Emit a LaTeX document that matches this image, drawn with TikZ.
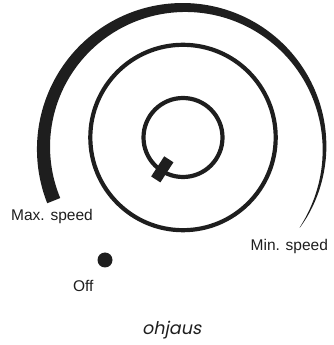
\documentclass[tikz,border=0pt]{standalone}
\usepackage{fontspec}
\usetikzlibrary{calc}
\setmainfont{Liberation Sans}
\newfontfamily\capfont[FakeSlant=0.2]{Poppins}
\definecolor{ink}{RGB}{30,30,30}
\begin{document}
\begin{tikzpicture}[x=1pt,y=1pt,
  declare function={wd(\t)=14*pow((\t+35)/237,0.7);},
  ring/.style={draw=ink,line width=4.2pt},
  lbl/.style={inner sep=0pt,anchor=base west,text=ink,font=\fontsize{15.5}{18}\selectfont},
  knob/.style={fill=ink,inner sep=0pt,minimum width=24pt,minimum height=11pt,rotate=237}]
\useasboundingbox (0,0) rectangle (334,345);
% outer tapering arc
\fill[ink] plot[domain=-34.5:202,samples=150,variable=\t]
   ({184+(140.5+0.5*wd(\t))*cos(\t)},{197+(140.5+0.5*wd(\t))*sin(\t)})
  -- plot[domain=202:-34.5,samples=150,variable=\t]
   ({184+(140.5-0.5*wd(\t))*cos(\t)},{197+(140.5-0.5*wd(\t))*sin(\t)}) -- cycle;
\coordinate (c) at (183,207.5);
\node[ring,circle,minimum size=185.4pt,inner sep=0pt] (mid) at (c) {};
\node[ring,circle,minimum size=79pt,inner sep=0pt] (inner) at (c) {};
\node[knob] (k) at ($(c)+(237:38)$) {};
\fill[ink] (105,85) circle (7.5pt);
\node[lbl] (max) at (11,124.3) {Max. speed};
\node[lbl] (min) at (250.5,94.3) {Min. speed};
\node[lbl] (off) at (72.8,53.3) {Off};
\node[inner sep=0pt,anchor=base,text=ink,font=\capfont\fontsize{17.5}{20}\selectfont] (cap) at (171.7,10) {ohjaus};
\end{tikzpicture}
\end{document}
